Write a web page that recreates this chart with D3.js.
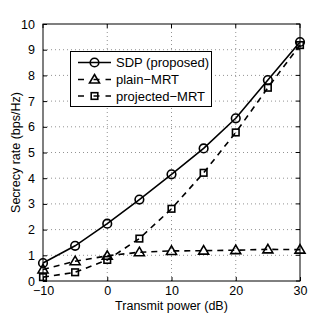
<!DOCTYPE html>
<html><head><meta charset="utf-8">
<script src="https://cdn.jsdelivr.net/npm/d3@7"></script>
<style>body{margin:0;background:#fff}svg{display:block}text{font-family:"Liberation Sans",Arial,sans-serif}</style>
</head><body>
<script>
const xValues = [-10,-5,0,5,10,15,20,25,30];
const sdp = [0.70,1.37,2.23,3.17,4.15,5.16,6.33,7.82,9.30];
const plainMRT = [0.45,0.77,0.98,1.12,1.17,1.18,1.20,1.23,1.22];
const projMRT = [0.15,0.34,0.82,1.65,2.81,4.21,5.78,7.52,9.18];
const xTicks = [-10,0,10,20,30];
const yTicks = [0,1,2,3,4,5,6,7,8,9,10];
const seriesNames = ["SDP (proposed)","plain\u2212MRT","projected\u2212MRT"];

const W=332,H=316;
const svg=d3.select("body").append("svg").attr("width",W).attr("height",H);
const x=d3.scaleLinear().domain([-10,30]).range([43,300]);
const y=d3.scaleLinear().domain([0,10]).range([281,24]);
const L=43,R=300,T=24,B=281;

// grid
const g=svg.append("g");
g.selectAll(".gx").data(xTicks.slice(1,-1)).enter().append("line")
 .attr("x1",d=>x(d)).attr("x2",d=>x(d)).attr("y1",T).attr("y2",B)
 .attr("stroke","#777").attr("stroke-width",0.8).attr("stroke-dasharray","1,3");
g.selectAll(".gy").data(yTicks.slice(1,-1)).enter().append("line")
 .attr("y1",d=>y(d)).attr("y2",d=>y(d)).attr("x1",L).attr("x2",R)
 .attr("stroke","#777").attr("stroke-width",0.8).attr("stroke-dasharray","1,3");

// axes
const xa=svg.append("g").attr("transform",`translate(0,${B})`)
 .call(d3.axisBottom(x).tickValues(xTicks).tickSize(-4).tickPadding(5).tickFormat(d=>d<0?"\u2212"+Math.abs(d):d));
const ya=svg.append("g").attr("transform",`translate(${L},0)`)
 .call(d3.axisLeft(y).tickValues(yTicks).tickSize(-4).tickPadding(8));
[xa,ya].forEach(a=>{a.select(".domain").remove();a.selectAll("line").attr("stroke","#000");a.selectAll("text").attr("font-size",12.5).attr("fill","#000");});
// top/right ticks
svg.selectAll(".tt").data(xTicks).enter().append("line").attr("x1",d=>x(d)).attr("x2",d=>x(d)).attr("y1",T).attr("y2",T+4).attr("stroke","#000");
svg.selectAll(".rt").data(yTicks).enter().append("line").attr("y1",d=>y(d)).attr("y2",d=>y(d)).attr("x1",R).attr("x2",R-4).attr("stroke","#000");
svg.append("rect").attr("x",L).attr("y",T).attr("width",R-L).attr("height",B-T).attr("fill","none").attr("stroke","#000").attr("stroke-width",1);

svg.append("text").attr("x",(L+R)/2).attr("y",310).attr("text-anchor","middle").attr("font-size",12.5).text("Transmit power (dB)");
svg.append("text").attr("transform",`translate(20,${(T+B)/2}) rotate(-90)`).attr("text-anchor","middle").attr("font-size",12.5).text("Secrecy rate (bps/Hz)");

const line=d3.line().x((d,i)=>x(xValues[i])).y(d=>y(d));
const series=[{v:sdp,dash:null,m:"circle"},{v:plainMRT,dash:"6,5",m:"triangle"},{v:projMRT,dash:"6,5",m:"square"}];

function marker(sel,type,cx,cy){
 if(type==="circle") sel.append("circle").attr("cx",cx).attr("cy",cy).attr("r",4.3).attr("fill","none").attr("stroke","#000").attr("stroke-width",1.6);
 else if(type==="triangle") sel.append("path").attr("d",`M${cx},${cy-5}L${cx+5},${cy+3.5}L${cx-5},${cy+3.5}Z`).attr("fill","none").attr("stroke","#000").attr("stroke-width",1.6);
 else sel.append("rect").attr("x",cx-3.3).attr("y",cy-3.3).attr("width",6.6).attr("height",6.6).attr("fill","none").attr("stroke","#000").attr("stroke-width",1.6);
}
series.forEach(s=>{
 svg.append("path").attr("d",line(s.v)).attr("fill","none").attr("stroke","#000").attr("stroke-width",1.6).attr("stroke-dasharray",s.dash);
 s.v.forEach((d,i)=>marker(svg,s.m,x(xValues[i]),y(d)));
});

// legend
svg.append("rect").attr("x",70.5).attr("y",51.5).attr("width",141).attr("height",55).attr("fill","#fff").attr("stroke","#000").attr("stroke-width",1);
const ly=[62.5,79.5,96];
series.forEach((s,i)=>{
 svg.append("line").attr("x1",78).attr("x2",111).attr("y1",ly[i]).attr("y2",ly[i]).attr("stroke","#000").attr("stroke-width",1.6).attr("stroke-dasharray",s.dash?"6,9.5,6":null);
 marker(svg,s.m,94.5,ly[i]);
 svg.append("text").attr("x",116).attr("y",ly[i]+4.5).attr("font-size",13).text(seriesNames[i]);
});
</script>
</body></html>
